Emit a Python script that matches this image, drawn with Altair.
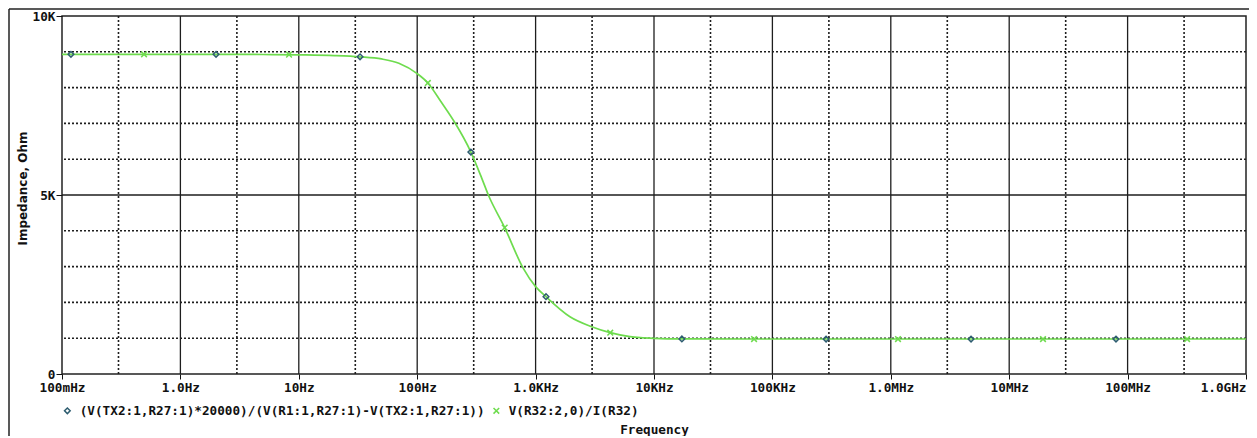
import altair as alt
import pandas as pd

# ---- data ----
curve_freq = [0.1, 1, 5, 10, 20, 32.9, 50, 70, 100, 123, 160, 209, 284, 350, 399,
              548, 787, 1000, 1224, 1950, 2980, 4270, 6270, 7700, 10000, 17200, 1e5, 1e9]
curve_ohm = [8930, 8930, 8925, 8915, 8895, 8860, 8800, 8680, 8390, 8130, 7590, 7010,
             6200, 5480, 5000, 4090, 2950, 2440, 2160, 1600, 1320, 1154, 1042, 1014,
             995, 980, 977, 977]

diam_freq = [0.119, 2.0, 32.9, 284, 1224, 17200, 284000, 4.76e6, 79.8e6]
diam_ohm = [8930, 8930, 8860, 6200, 2160, 980, 977, 977, 977]

xm_freq = [0.493, 8.27, 123, 548, 4270, 70000, 1.15e6, 19.3e6, 318e6]
xm_ohm = [8930, 8920, 8130, 4090, 1154, 977, 977, 977, 977]

series_names = ["(V(TX2:1,R27:1)*20000)/(V(R1:1,R27:1)-V(TX2:1,R27:1))",
                "V(R32:2,0)/I(R32)"]

x_major = [0.1, 1, 10, 100, 1e3, 1e4, 1e5, 1e6, 1e7, 1e8, 1e9]
x_labels = ["100mHz", "1.0Hz", "10Hz", "100Hz", "1.0KHz", "10KHz", "100KHz",
            "1.0MHz", "10MHz", "100MHz", "1.0GHz"]
x_minor = [0.3, 3, 30, 300, 3e3, 3e4, 3e5, 3e6, 3e7, 3e8]

y_major = [0, 5000, 10000]
y_labels = ["0", "5K", "10K"]
y_minor = [1000, 2000, 3000, 4000, 6000, 7000, 8000, 9000]

# ---- styling ----
MONO = "DejaVu Sans Mono"
FS = 12.7
LINE_GREEN = "#6edc4e"
DIAM_COLOR = "#2e5d70"
GRID = "#1e1e1e"
W, H = 1184, 358

xlab_expr = ""
for v, l in zip(x_major[:-1], x_labels[:-1]):
    xlab_expr += f"datum.value < {v * 1.5} ? '{l}' : "
xlab_expr += f"'{x_labels[-1]}'"
ylab_expr = ""
for v, l in zip(y_major[:-1], y_labels[:-1]):
    ylab_expr += f"datum.value < {v + 100} ? '{l}' : "
ylab_expr += f"'{y_labels[-1]}'"

xscale = alt.Scale(type="log", domain=[0.1, 1e9], nice=False)
yscale = alt.Scale(domain=[0, 10000], nice=False, zero=True)

x_axis = alt.Axis(values=x_major, labelExpr=xlab_expr, grid=False, domain=False,
                  ticks=True, tickSize=5, tickColor="#111", tickWidth=1,
                  labelFont=MONO, labelFontWeight="bold", labelFontSize=FS,
                  labelColor="#111", labelPadding=2, labelFlush=False,
                  labelOverlap=False,
                  labelAlign={"condition": {"test": f"datum.value > {x_major[-1] * 0.5}",
                                            "value": "right"},
                              "value": "center"},
                  title="Frequency", titleFont=MONO, titleFontWeight="bold",
                  titleFontSize=FS, titleColor="#111", titleY=55,
                  titleBaseline="middle")
y_axis = alt.Axis(values=y_major, labelExpr=ylab_expr, grid=False, domain=False,
                  ticks=True, tickSize=6, tickColor="#111", tickWidth=1,
                  labelFont=MONO, labelFontWeight="bold", labelFontSize=FS,
                  labelColor="#111", labelPadding=1, labelFlush=False,
                  title="Impedance, Ohm", titleFont="DejaVu Sans",
                  titleFontWeight="bold", titleFontSize=12, titleColor="#111",
                  titleX=-40, titleY=172, titleAngle=-90, titleAlign="center",
                  titleBaseline="middle")

XE = alt.X("f:Q", scale=xscale, axis=x_axis)
YE = alt.Y("z:Q", scale=yscale, axis=y_axis)

curve_df = pd.DataFrame({"f": curve_freq, "z": curve_ohm})
pts_df = pd.concat([
    pd.DataFrame({"f": diam_freq, "z": diam_ohm, "s": series_names[0]}),
    pd.DataFrame({"f": xm_freq, "z": xm_ohm, "s": series_names[1]}),
])

xmaj_df = pd.DataFrame({"f": x_major[1:-1]})
xmin_df = pd.DataFrame({"f": x_minor})
ymaj_df = pd.DataFrame({"z": [5000]})
ymin_df = pd.DataFrame({"z": y_minor})

minor_v = alt.Chart(xmin_df).mark_rule(color=GRID, strokeWidth=1.6, strokeDash=[2, 2]).encode(x=XE)
major_v = alt.Chart(xmaj_df).mark_rule(color=GRID, strokeWidth=1.3).encode(x=XE)
minor_h = alt.Chart(ymin_df).mark_rule(color=GRID, strokeWidth=1.6, strokeDash=[2, 2]).encode(y=YE)
major_h = alt.Chart(ymaj_df).mark_rule(color=GRID, strokeWidth=1.3).encode(y=YE)

line = alt.Chart(curve_df).mark_line(color=LINE_GREEN, strokeWidth=1.7,
                                     interpolate="monotone").encode(x=XE, y=YE)

xshape = "M-1,-1L1,1M-1,1L1,-1"
leg = alt.Legend(title=None, orient="none", legendX=-1, legendY=388,
                 direction="horizontal", labelFont=MONO,
                 labelFontWeight="bold", labelFontSize=FS,
                 labelColor="#111", labelLimit=1000,
                 labelOffset=6, columnPadding=5, padding=0,
                 symbolSize=32, symbolStrokeWidth=1.5)
points = alt.Chart(pts_df).mark_point(filled=False, strokeWidth=1.5, size=32, opacity=1).encode(
    x=XE, y=YE,
    color=alt.Color("s:N", scale=alt.Scale(domain=series_names,
                                           range=[DIAM_COLOR, LINE_GREEN]), legend=leg),
    shape=alt.Shape("s:N", scale=alt.Scale(domain=series_names,
                                           range=["diamond", xshape]), legend=leg),
)

one = pd.DataFrame({"k": [0]})
frame_top = alt.Chart(one).mark_rule(color="#222", strokeWidth=1.5).encode(
    x=alt.value(-53), x2=alt.value(W + 10), y=alt.value(-7))
frame_left = alt.Chart(one).mark_rule(color="#222", strokeWidth=1.5).encode(
    x=alt.value(-53), y=alt.value(-7), y2=alt.value(H + 70))

chart = alt.layer(minor_v, minor_h, major_v, major_h, line, points, frame_top, frame_left).properties(
    width=W, height=H,
    autosize=alt.AutoSizeParams(type="none"),
    padding={"left": 54, "top": 8, "right": 3, "bottom": 62},
    background="white",
).configure_view(stroke="#222", strokeWidth=1.5)

chart.save("out.html", embed_options={"renderer": "svg", "actions": False})
